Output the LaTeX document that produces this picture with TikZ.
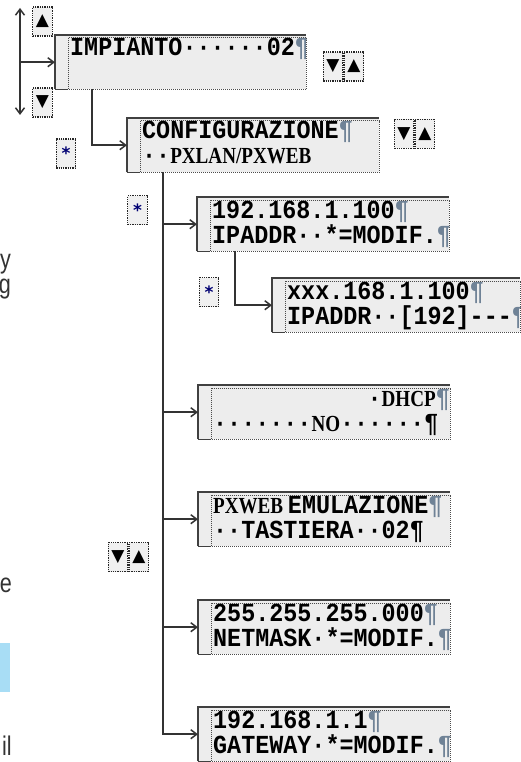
\documentclass[tikz,border=0pt]{standalone}
\usepackage{xcolor}
\usepackage{fontspec}
\usepackage{tikz}
\usetikzlibrary{arrows.meta, positioning, calc}
\setmonofont[FakeStretch=0.9]{Liberation Mono}
\newfontfamily\lcdserif[FakeStretch=0.83]{Liberation Serif}
\newfontfamily\symfont{DejaVu Sans}
\newfontfamily\sidefont[FakeStretch=0.8]{Liberation Sans}
\definecolor{pilcrow}{HTML}{6F8296}
\definecolor{sideblue}{HTML}{A8DDF5}
\newcommand{\pil}{{\color{pilcrow}¶}}
\newcommand{\pilb}{¶}
\newcommand{\sr}[1]{{\lcdserif\bfseries\fontsize{23}{23}\selectfont #1}}
\newcommand{\lcdbox}[6]{%
  \node[lcd, minimum width=#4pt, anchor=north west] (#1) at (#2,#3) {};
  \draw[lcdframe] (#1.south west) -- (#1.north west) -- (#1.north east)
    (#1.south west) -- ([xshift=13pt]#1.south west);
  \begin{scope}
    \clip (#1.south west) rectangle (#1.north east);
    \node[lcdline, anchor=base west] at ([xshift=15pt, yshift=-21pt]#1.north west) {#5};
    \node[lcdline, anchor=base west] at ([xshift=15pt, yshift=-46pt]#1.north west) {#6};
  \end{scope}
  \draw[lcdinner] ([xshift=13pt]#1.south west) rectangle ([yshift=-3pt]#1.north east);
}

\begin{document}
\begin{tikzpicture}[x=1pt, y=-1pt,
    lcd/.style={fill=gray!14, minimum height=54pt, inner sep=0pt},
    lcdframe/.style={draw=black!75, line width=1.2pt},
    lcdinner/.style={draw=black!70, densely dotted, line width=1pt},
    lcdline/.style={font=\ttfamily\bfseries\fontsize{26}{26}\selectfont, inner sep=0pt},
    key/.style={draw=black!85, densely dotted, line width=1.3pt, fill=gray!12,
      minimum width=19.5pt, minimum height=29pt, inner sep=0pt,
      font=\symfont\fontsize{17}{17}\selectfont},
    star/.style={key, font=\symfont\bfseries\fontsize{17}{17}\selectfont, text=blue!45!black},
    conn/.style={draw=black!80, line width=1.5pt},
    arr/.style={conn, -{Straight Barb[length=6pt, width=9pt]}},
    side/.style={font=\sidefont\fontsize{27}{27}\selectfont, text=black!80, inner sep=0pt}]
  \useasboundingbox (0,0) rectangle (521,762);

  \lcdbox{im}{55}{35}{251}{IMPIANTO······02\pil}{}
  \lcdbox{cfg}{127}{118}{252}{CONFIGURAZIONE\pil}{··\sr{PXLAN/PXWEB}}
  \lcdbox{ip}{197}{197}{252}{192.168.1.100\pil}{IPADDR··*=MODIF.\pil}
  \lcdbox{ipx}{272}{278}{248}{xxx.168.1.100\pil}{IPADDR··[192]---\pil}
  \lcdbox{dhcp}{198}{385}{252}{\hphantom{00000000000}·\sr{DHCP}\pil}{·······\sr{NO}······\pilb}
  \lcdbox{emu}{198}{492}{252}{\sr{PXWEB }EMULAZIONE\pil}{··TASTIERA··02\pilb}
  \lcdbox{net}{198}{600}{252}{255.255.255.000\pil}{NETMASK·*=MODIF.\pil}
  \lcdbox{gw}{198}{707}{252}{192.168.1.1\pil}{GATEWAY·*=MODIF.\pil}

  \node[key] (up) at (42.5,21.5) {▲};
  \node[key] (down) at (42.5,102.5) {▼};
  \node[key] (navAd) at (333,66.5) {▼};
  \node[key, right=0pt of navAd] (navAu) {▲};
  \node[key] (navBd) at (404,134) {▼};
  \node[key, right=0pt of navBd] (navBu) {▲};
  \node[key] (navCd) at (118,557) {▼};
  \node[key, right=0pt of navCd] (navCu) {▲};
  \node[star] (starA) at (66,153.5) {*};
  \node[star] (starB) at (137.5,210) {*};
  \node[star] (starC) at (209,292) {*};

  \coordinate (scrtop) at (20,8);
  \coordinate (scrbot) at (20,115);
  \draw[conn, {Straight Barb[length=6pt, width=9pt]}-{Straight Barb[length=6pt, width=9pt]}] (scrtop) -- (scrbot);
  \draw[arr] (scrtop |- im.west) -- (im.west);
  \draw[arr] ([xshift=37pt]im.south west) |- (cfg.west);
  \coordinate (trunk) at ([xshift=36pt]cfg.south west);
  \draw[arr] (trunk) |- (gw.west);
  \foreach \b in {ip, dhcp, emu, net}
    \draw[arr] (trunk |- \b.west) -- (\b.west);
  \draw[arr] ([xshift=38pt]ip.south west) |- (ipx.west);

  \node[side, anchor=base east] (sy) at (11,268) {y};
  \node[side, anchor=base east] (sg) at (11,293) {g};
  \node[side, anchor=base east] (se) at (12,592) {e};
  \node[side, anchor=base east] (sil) at (12,755) {il};
  \fill[sideblue] (0,643) rectangle (10,692);
\end{tikzpicture}
\end{document}
